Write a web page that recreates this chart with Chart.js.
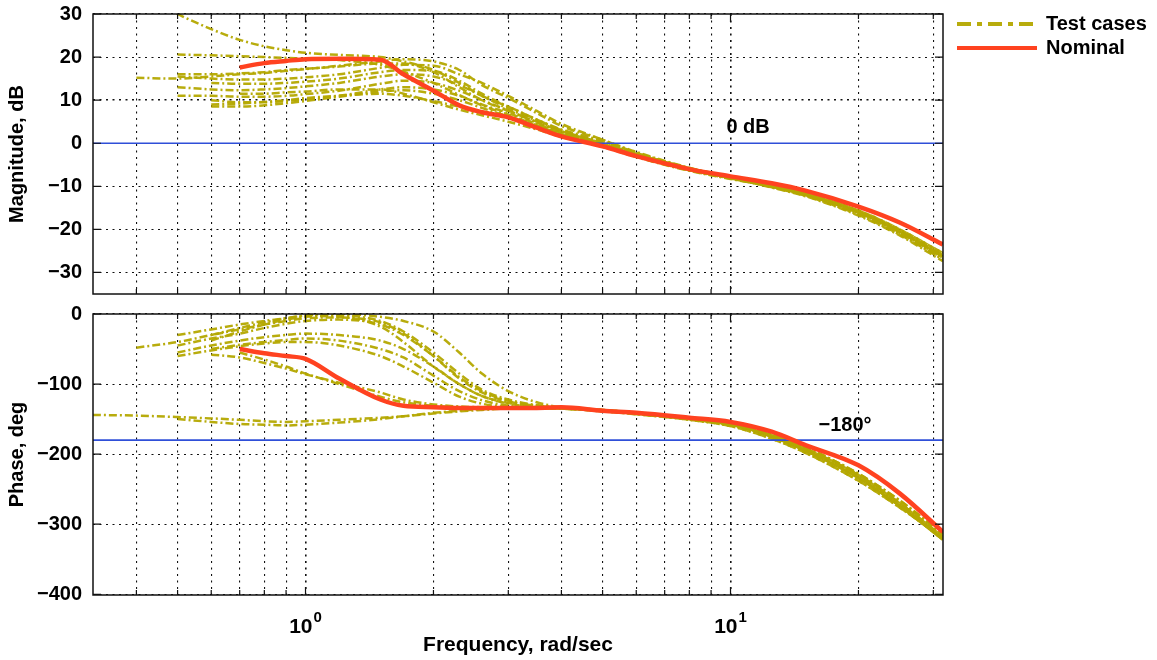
<!DOCTYPE html>
<html>
<head>
<meta charset="utf-8">
<script src="https://cdn.jsdelivr.net/npm/chart.js@4.4.1/dist/chart.umd.min.js"></script>
<style>
  html, body { margin: 0; padding: 0; background: #fff; }
  #wrap { position: relative; width: 1157px; height: 660px; }
  canvas { position: absolute; left: 0; }
  #mag { top: 0; }
  #phase { top: 304px; }
</style>
</head>
<body>
<div id="wrap">
  <canvas id="mag" width="1157" height="304"></canvas>
  <canvas id="phase" width="1157" height="356"></canvas>
</div>
<script>
// frequency grid (rad/sec) shared by every curve
const freq = [0.316, 0.4, 0.5, 0.6, 0.7, 0.8, 0.9, 1.0, 1.2, 1.5, 1.7, 2.0, 2.3, 2.6, 3.0, 3.5, 4.0, 5.0, 6.0, 8.0, 10, 12.5, 15, 20, 25, 31.6];

const nominalMag = [null, null, null, null, 17.6, 18.6, 19.1, 19.5, 19.6, 19.4, 16.0, 12.2, 8.8, 7.2, 6.0, 3.6, 1.6, -0.7, -3.0, -6.0, -7.7, -9.3, -11.0, -14.7, -18.4, -23.5];
const nominalPhase = [null, null, null, null, -50, -56, -60, -64, -92, -122, -131, -133, -134, -134, -134, -134, -133, -138, -141, -148, -154, -168, -187, -216, -256, -311];

// test cases, magnitude (dB)
const testMag = [
  [41, 35, 30, 26.5, 24, 22.5, 21.6, 21.0, 20.5, 20.0, 19.0, 17.0, 14.0, 11.0, 8.5, 5.5, 3.0, 0.0, -2.5, -5.8, -7.8, -9.8, -11.6, -15.6, -20.0, -25.5],
  [null, null, 20.6, 20.4, 20.2, 20.0, 19.8, 19.6, 19.3, 18.2, 16.6, 14.0, 11.2, 8.8, 6.6, 4.2, 2.2, -0.5, -3.0, -6.2, -8.1, -10.1, -12.0, -16.2, -20.8, -26.6],
  [null, null, 15.5, 15.0, 14.8, 14.8, 15.0, 15.3, 16.0, 17.5, 18.2, 18.0, 16.0, 14.0, 11.0, 7.5, 4.5, 0.8, -2.2, -5.9, -8.0, -10.3, -12.3, -16.8, -21.4, -27.4],
  [null, null, 13.0, 12.5, 12.3, 12.5, 12.8, 13.2, 14.0, 15.5, 16.0, 15.5, 13.5, 11.0, 8.0, 5.2, 3.0, 0.2, -2.6, -6.0, -8.0, -10.0, -12.0, -16.2, -20.8, -26.8],
  [null, null, null, 10.0, 9.5, 9.5, 9.8, 10.2, 11.0, 12.5, 13.0, 12.5, 11.0, 9.0, 7.0, 4.5, 2.5, -0.2, -2.8, -6.1, -8.1, -10.0, -11.9, -16.0, -20.5, -26.2],
  [null, null, null, 8.5, 8.5, 8.8, 9.3, 9.8, 10.8, 12.0, 12.3, 11.5, 10.0, 8.2, 6.2, 4.0, 2.0, -0.6, -3.1, -6.3, -8.2, -10.1, -12.0, -16.1, -20.6, -26.3],
  [null, null, 16.0, 16.0, 16.2, 16.5, 17.0, 17.3, 17.8, 18.5, 18.5, 16.5, 13.0, 10.0, 7.5, 5.0, 2.8, 0.0, -2.5, -5.8, -7.8, -9.8, -11.6, -15.6, -20.0, -25.5],
  [null, null, null, null, 11.5, 11.5, 11.8, 12.0, 12.5, 12.5, 11.5, 9.5, 7.8, 6.5, 5.0, 3.2, 1.5, -0.8, -3.2, -6.4, -8.3, -10.0, -11.8, -15.8, -20.3, -26.0],
  [null, null, null, 14.0, 13.8, 13.8, 14.0, 14.3, 15.0, 16.5, 17.0, 16.8, 14.5, 11.5, 8.5, 5.5, 3.2, 0.5, -2.2, -5.8, -7.9, -10.2, -12.2, -16.6, -21.2, -27.0],
  [null, null, 11.0, 11.0, 10.8, 10.8, 11.0, 11.4, 12.2, 13.8, 14.5, 14.0, 12.2, 10.0, 7.6, 4.8, 2.6, -0.3, -2.9, -6.2, -8.1, -10.1, -12.0, -16.2, -20.8, -26.6],
  [null, 15.2, 15.0, 15.5, 16.0, 16.3, 16.8, 17.2, 18.0, 19.0, 19.5, 19.0, 17.0, 13.5, 10.5, 7.0, 4.0, 0.8, -2.0, -5.7, -7.8, -9.9, -11.8, -15.9, -20.4, -26.1],
  [null, null, null, 9.0, 9.2, 9.6, 10.0, 10.5, 11.0, 11.5, 11.0, 9.8, 8.5, 7.4, 6.2, 4.0, 2.0, -0.5, -3.0, -6.2, -8.1, -10.0, -11.9, -16.0, -20.5, -26.2]
];

// test cases, phase (deg)
const testPhase = [
  [-144, -145, -147, -149, -151, -153, -154, -153, -151, -148, -146, -142, -139, -137, -135, -135, -134, -138, -142, -150, -158, -173, -192, -230, -270, -318],
  [null, null, -150, -154, -157, -158, -159, -158, -155, -150, -146, -141, -138, -136, -135, -134, -134, -137, -141, -149, -157, -175, -195, -234, -274, -322],
  [null, null, -45, -35, -28, -20, -14, -10, -8, -15, -30, -60, -90, -110, -124, -131, -134, -139, -143, -151, -160, -178, -198, -238, -276, -320],
  [null, null, -55, -45, -38, -33, -30, -28, -30, -38, -50, -75, -100, -117, -128, -133, -135, -138, -142, -150, -158, -173, -192, -230, -270, -318],
  [null, null, null, -50, -44, -40, -37, -35, -38, -50, -62, -88, -110, -123, -131, -134, -135, -137, -141, -149, -157, -175, -195, -234, -274, -322],
  [null, null, null, -38, -25, -15, -8, -4, -2, -10, -25, -55, -85, -108, -122, -130, -134, -138, -142, -150, -159, -172, -190, -228, -266, -314],
  [null, null, -30, -22, -15, -10, -6, -3, -4, -18, -40, -75, -100, -117, -127, -132, -135, -138, -142, -150, -158, -173, -192, -230, -270, -318],
  [null, null, null, null, -55, -65, -75, -85, -100, -118, -126, -131, -133, -134, -134, -134, -134, -138, -142, -150, -159, -172, -190, -228, -266, -314],
  [null, null, null, -30, -20, -12, -6, -2, 0, -4, -10, -25, -55, -85, -110, -126, -133, -137, -141, -149, -157, -175, -195, -234, -274, -322],
  [null, null, -60, -52, -46, -42, -40, -40, -45, -60, -75, -98, -118, -128, -133, -135, -135, -139, -143, -151, -160, -178, -198, -238, -276, -320],
  [null, -48, -40, -30, -22, -15, -10, -6, -5, -12, -28, -60, -92, -112, -125, -131, -134, -138, -142, -150, -158, -173, -192, -230, -270, -318],
  [null, null, null, -58, -62, -70, -78, -86, -98, -112, -122, -129, -132, -133, -134, -134, -134, -137, -141, -149, -157, -175, -195, -234, -274, -322]
];

const gridFreqs = [0.4, 0.5, 0.6, 0.7, 0.8, 0.9, 1, 2, 3, 4, 5, 6, 7, 8, 9, 10, 20, 30];
const magTicks = [-30, -20, -10, 0, 10, 20, 30];
const phaseTicks = [-400, -300, -200, -100, 0];
const xMin = 0.3162, xMax = 31.62;
const magRefLine = 0, phaseRefLine = -180;

const testColor = 'rgba(180,168,0,0.95)';
const nominalColor = '#ff4220';
const refColor = '#2f4fd8';
const fontFamily = "'Liberation Sans', Arial, Helvetica, sans-serif";

Chart.defaults.font.family = fontFamily;
Chart.defaults.font.weight = 'bold';
Chart.defaults.font.size = 20;
Chart.defaults.color = '#000';

const minus = v => (v < 0 ? '\u2212' + Math.abs(v) : String(v));
const pts = arr => freq.map((f, i) => ({ x: f, y: arr[i] }));

function buildDatasets(nominal, tests, refValue) {
  const sets = [{
    label: 'Nominal', data: pts(nominal), borderColor: nominalColor, borderWidth: 4.5,
    pointRadius: 0, cubicInterpolationMode: 'monotone', order: 0
  }, {
    label: 'ref', data: [{ x: xMin, y: refValue }, { x: xMax, y: refValue }],
    borderColor: refColor, borderWidth: 1.6, pointRadius: 0, order: 1
  }];
  tests.forEach((arr, i) => sets.push({
    label: 'Test case ' + (i + 1), data: pts(arr), borderColor: testColor, borderWidth: 2.5,
    borderDash: [8, 3, 2, 3], pointRadius: 0, cubicInterpolationMode: 'monotone', order: 2
  }));
  return sets;
}

const gridStyle = {
  color: '#111', drawTicks: false,
  lineWidth: c => (c.tick && (c.tick.value === 1 || c.tick.value === 10) ? 1.6 : 1.1)
};

function framePlugin(extra) {
  return {
    id: 'frame',
    afterDraw(chart) {
      const { ctx, chartArea: a, scales } = chart;
      ctx.save();
      ctx.strokeStyle = '#111';
      ctx.lineWidth = 1.5;
      ctx.strokeRect(a.left, a.top, a.right - a.left, a.bottom - a.top);
      ctx.lineWidth = 1.2;
      ctx.beginPath();
      scales.x.ticks.forEach(t => {
        const px = scales.x.getPixelForValue(t.value);
        const len = (t.value === 1 || t.value === 10) ? 8 : 5;
        ctx.moveTo(px, a.bottom); ctx.lineTo(px, a.bottom - len);
        ctx.moveTo(px, a.top); ctx.lineTo(px, a.top + len);
      });
      scales.y.ticks.forEach(t => {
        const py = scales.y.getPixelForValue(t.value);
        ctx.moveTo(a.left, py); ctx.lineTo(a.left + 8, py);
        ctx.moveTo(a.right, py); ctx.lineTo(a.right - 8, py);
      });
      ctx.stroke();
      if (extra) extra(chart, ctx);
      ctx.restore();
    }
  };
}

const xScale = (height, withTitle) => ({
  type: 'logarithmic', min: xMin, max: xMax, bounds: 'data',
  afterBuildTicks: s => { s.ticks = gridFreqs.map(v => ({ value: v })); },
  afterFit: s => { s.height = height; s.paddingLeft = 0; s.paddingRight = 0; },
  ticks: { display: false },
  grid: gridStyle,
  border: { display: false, dash: [2, 4.5] },
  title: {
    display: withTitle, text: 'Frequency, rad/sec',
    font: { size: 21, weight: 'bold', lineHeight: 1.2 }, padding: { top: 0, bottom: 2 }
  }
});

const yScale = (min, max, ticks, title) => ({
  min: min, max: max,
  afterBuildTicks: s => { s.ticks = ticks.map(v => ({ value: v })); },
  afterFit: s => { s.width = 93; s.paddingTop = 0; s.paddingBottom = 0; },
  ticks: { padding: 11, autoSkip: false, callback: v => minus(v) },
  grid: gridStyle,
  border: { display: false, dash: [2, 4.5] },
  title: { display: true, text: title, font: { size: 20, weight: 'bold', lineHeight: 1.2 }, padding: { top: 5, bottom: 0 } }
});

new Chart(document.getElementById('mag'), {
  type: 'line',
  data: { datasets: buildDatasets(nominalMag, testMag, magRefLine) },
  options: {
    responsive: false, animation: false, events: [],
    layout: { padding: { left: 0, top: 14, right: 214, bottom: 0 } },
    plugins: { legend: { display: false }, tooltip: { enabled: false } },
    scales: { x: xScale(10, false), y: yScale(-35, 30, magTicks, 'Magnitude, dB') }
  },
  plugins: [framePlugin((chart, ctx) => {
    const { x, y } = chart.scales;
    ctx.font = 'bold 20px ' + fontFamily;
    ctx.fillStyle = '#000';
    ctx.textAlign = 'center';
    ctx.textBaseline = 'middle';
    ctx.fillText('0 dB', x.getPixelForValue(11.0), y.getPixelForValue(3.6));
    // legend
    ctx.lineWidth = 4;
    ctx.strokeStyle = testColor;
    ctx.setLineDash([14, 6, 5, 6]);
    ctx.beginPath(); ctx.moveTo(957, 24); ctx.lineTo(1037, 24); ctx.stroke();
    ctx.setLineDash([]);
    ctx.strokeStyle = nominalColor;
    ctx.beginPath(); ctx.moveTo(957, 48); ctx.lineTo(1037, 48); ctx.stroke();
    ctx.textAlign = 'left';
    ctx.fillText('Test cases', 1046, 24);
    ctx.fillText('Nominal', 1046, 48);
  })]
});

new Chart(document.getElementById('phase'), {
  type: 'line',
  data: { datasets: buildDatasets(nominalPhase, testPhase, phaseRefLine) },
  options: {
    responsive: false, animation: false, events: [],
    layout: { padding: { left: 0, top: 10, right: 214, bottom: 0 } },
    plugins: { legend: { display: false }, tooltip: { enabled: false } },
    scales: { x: xScale(65, true), y: yScale(-401, 0, phaseTicks, 'Phase, deg') }
  },
  plugins: [framePlugin((chart, ctx) => {
    const { x, y } = chart.scales;
    const a = chart.chartArea;
    ctx.fillStyle = '#000';
    ctx.font = 'bold 20px ' + fontFamily;
    ctx.textAlign = 'center';
    ctx.textBaseline = 'middle';
    ctx.fillText('\u2212180\u00b0', x.getPixelForValue(18.6), y.getPixelForValue(-158.5));
    // decade tick labels 10^0, 10^1
    ctx.textBaseline = 'alphabetic';
    [[1, '0'], [10, '1']].forEach(([v, e]) => {
      const px = x.getPixelForValue(v);
      ctx.font = 'bold 21px ' + fontFamily;
      ctx.textAlign = 'right';
      ctx.fillText('10', px + 7, a.bottom + 38);
      ctx.font = 'bold 15px ' + fontFamily;
      ctx.textAlign = 'left';
      ctx.fillText(e, px + 8, a.bottom + 27);
    });
  })]
});
</script>
</body>
</html>
